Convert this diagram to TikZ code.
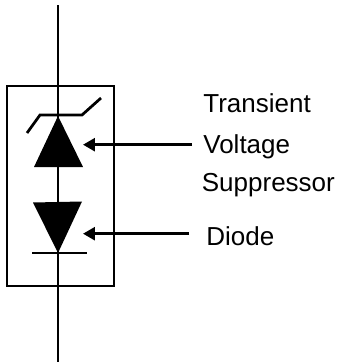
\documentclass[tikz,border=0pt]{standalone}
\usepackage{fontspec}
\setmainfont{Liberation Sans}
\usepackage{tikz}
\usetikzlibrary{arrows.meta}

\begin{document}
\begin{tikzpicture}[x=0.02cm,y=-0.02cm,line width=0.055cm,
    lbl/.style={inner sep=0pt,anchor=base west,font=\fontsize{14.8}{18}\selectfont},
    tipline/.style={-{Triangle[length=0.24cm,width=0.26cm]}}]
    \useasboundingbox (0,0) rectangle (341,362);
    \coordinate (top) at (58,5);
    \coordinate (bot) at (58,362);
    \coordinate (ua) at (58,116);
    \coordinate (ul) at (34,167);
    \coordinate (ur) at (83,167);
    \coordinate (da) at (58,253);
    \coordinate (dl) at (33,202.5);
    \coordinate (dr) at (82,201.5);

    \node[draw,minimum width=2.14cm,minimum height=4cm,inner sep=0pt,line width=0.055cm] (case) at (60.5,186) {};
    \draw (top) -- (bot);
    \fill (ua) -- (ul) -- (ur) -- cycle;
    \fill (dl) -- (dr) -- (da) -- cycle;
    \draw (27,133) -- (40,115) -- (82,115) -- (101,98);
    \draw (32,253) -- (87,253);

    \node[lbl] (tr) at (202,112) {Transient};
    \node[lbl] (vo) at (202,153) {Voltage};
    \node[lbl] (su) at (200.5,191.7) {Suppressor};
    \node[lbl] (di) at (205,245) {Diode};

    \coordinate (a1) at (192,144.7);
    \coordinate (a2) at (189,233.7);
    \coordinate (b1) at (83,144.7);
    \coordinate (b2) at (83,233.7);
    \draw[tipline] (a1) -- (b1);
    \draw[tipline] (a2) -- (b2);
\end{tikzpicture}
\end{document}
